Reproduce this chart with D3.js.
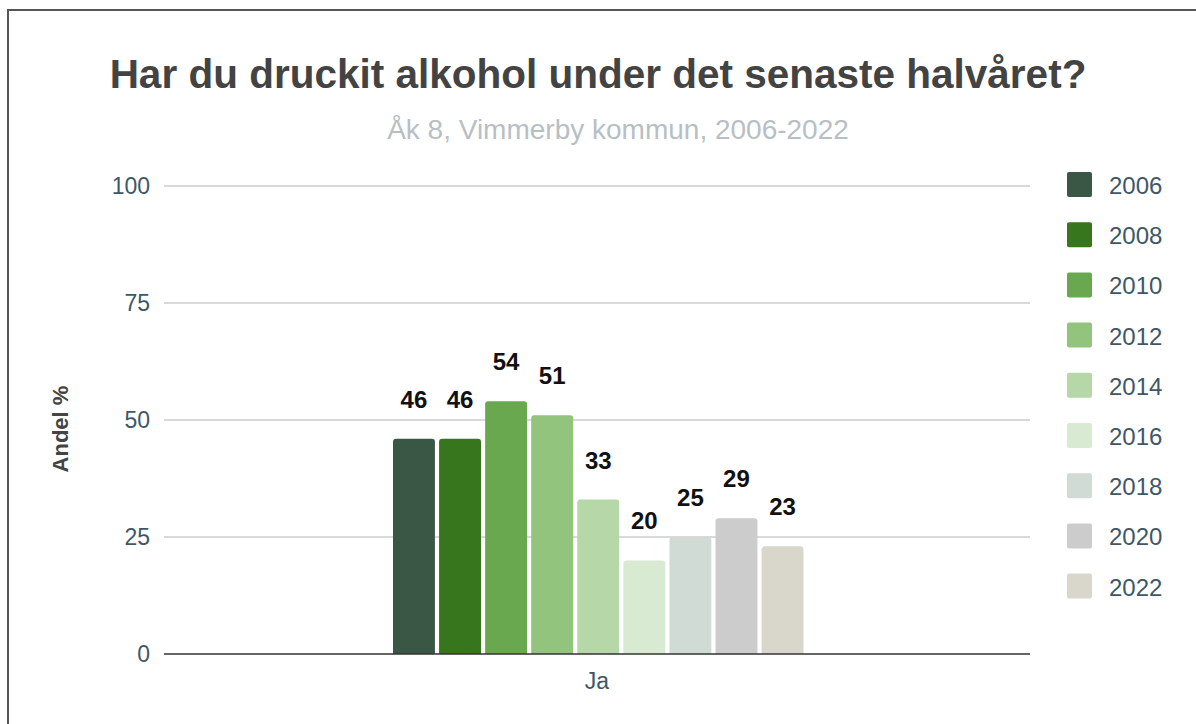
<!DOCTYPE html>
<html><head><meta charset="utf-8">
<script src="https://cdn.jsdelivr.net/npm/d3@7"></script>
<style>body{margin:0;background:#fff;}svg{display:block;font-family:"Liberation Sans",Arial,sans-serif;}</style>
</head><body><svg id="c" width="1196" height="724"></svg>
<script>
const categories = ["Ja"];
const years = ["2006","2008","2010","2012","2014","2016","2018","2020","2022"];
const values = [46,46,54,51,33,20,25,29,23];
const colors = ["#3a5745","#38761d","#6aa84f","#93c47d","#b6d7a8","#d9ead3","#d0dbd5","#cccccc","#d9d7cb"];
const yTicks = [0,25,50,75,100];

(function(){
const svg = d3.select("#c");
const FF = "'Liberation Sans', Arial, sans-serif";
// frame
svg.append("rect").attr("x",8).attr("y",10).attr("width",1200).attr("height",730)
  .attr("fill","none").attr("stroke","#555").attr("stroke-width",2);

const pL=164, pR=1030, pT=186, pB=654;
const y = d3.scaleLinear().domain([0,100]).range([pB,pT]);
const x0 = d3.scaleBand().domain(categories).range([pL,pR]);
const x1 = d3.scaleBand().domain(years).range([393,803.5]).paddingInner(0.09).paddingOuter(0.0);

// grid
svg.append("g").selectAll("line").data(yTicks.filter(d=>d>0)).join("line")
  .attr("x1",pL).attr("x2",pR).attr("y1",d=>y(d)).attr("y2",d=>y(d))
  .attr("stroke","#cccccc").attr("stroke-width",1.3);

const yAxis = svg.append("g").attr("transform",`translate(${pL},0)`)
  .call(d3.axisLeft(y).tickValues(yTicks).tickSize(0).tickPadding(14));
yAxis.select(".domain").remove();
yAxis.selectAll("text").attr("font-size",23).attr("fill","#3e5768").attr("font-family",FF);

// bars
svg.append("g").selectAll("path").data(values).join("path")
  .attr("d",(d,i)=>{
    const bx=x1(years[i]), bw=x1.bandwidth(), by=y(d), r=3;
    return `M${bx},${pB}V${by+r}Q${bx},${by} ${bx+r},${by}H${bx+bw-r}Q${bx+bw},${by} ${bx+bw},${by+r}V${pB}Z`;
  })
  .attr("fill",(d,i)=>colors[i]);

// baseline
svg.append("line").attr("x1",pL).attr("x2",pR).attr("y1",pB).attr("y2",pB)
  .attr("stroke","#333").attr("stroke-width",1.5);

// labels
svg.append("g").selectAll("text").data(values).join("text")
  .attr("x",(d,i)=>x1(years[i])+x1.bandwidth()/2)
  .attr("y",d=>y(d)-31)
  .attr("text-anchor","middle").attr("font-size",24).attr("font-weight","bold")
  .attr("font-family",FF).attr("fill","#111").text(d=>d);

// x axis label
svg.append("text").attr("x",x0("Ja")+x0.bandwidth()/2).attr("y",689).attr("text-anchor","middle")
  .attr("font-size",23).attr("fill","#3e5768").attr("font-family",FF).text("Ja");

// titles
svg.append("text").attr("x",598).attr("y",88).attr("text-anchor","middle")
  .attr("font-size",40.5).attr("font-weight","bold").attr("fill","#434343").text("Har du druckit alkohol under det senaste halvåret?");
svg.append("text").attr("x",618).attr("y",139).attr("text-anchor","middle")
  .attr("font-size",28).attr("fill","#b7bfc5").text("Åk 8, Vimmerby kommun, 2006-2022");

// y axis title
svg.append("text").attr("transform","translate(68,429) rotate(-90)").attr("text-anchor","middle")
  .attr("font-size",22).attr("font-weight","bold").attr("fill","#444").text("Andel %");

// legend
const lg = svg.append("g").selectAll("g").data(years).join("g")
  .attr("transform",(d,i)=>`translate(1067,${172+i*50.2})`);
lg.append("rect").attr("width",25).attr("height",25).attr("rx",2).attr("fill",(d,i)=>colors[i]);
lg.append("text").attr("x",42).attr("y",22).attr("font-size",24).attr("fill","#3e5768")
  .attr("font-family",FF).text(d=>d);
})();
</script></body></html>
